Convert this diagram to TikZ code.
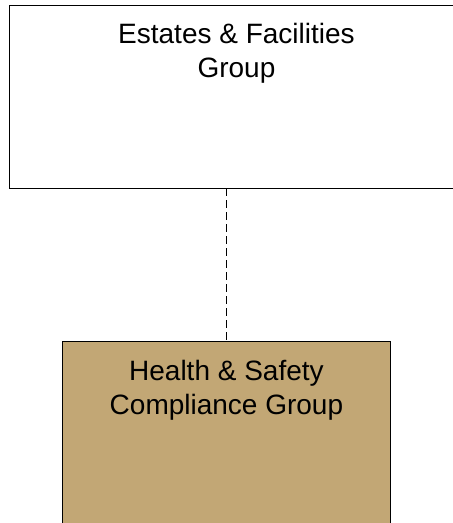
\documentclass[tikz,border=0pt]{standalone}
\usepackage{fontspec}
\setmainfont{Liberation Sans}
\definecolor{tan}{RGB}{194,167,117}
\begin{document}
\begin{tikzpicture}[x=1pt,y=-1pt,
  box/.style={draw=black,line width=0.9pt,rectangle,inner sep=0pt,anchor=north west},
  lbl/.style={anchor=north,align=center,inner sep=0pt,font=\fontsize{28}{34}\selectfont},
  link/.style={draw=black,line width=0.9pt,dash pattern=on 8pt off 4pt}]
\useasboundingbox (0,0) rectangle (453,523);
\clip (0,0) rectangle (453,523);
\node[box,minimum width=454pt,minimum height=183pt] (ef) at (9,4.5) {};
\node[box,fill=tan,minimum width=328pt,minimum height=200pt] (hs) at (62,341) {};
\node[lbl] (eft) at ([yshift=-18.5pt]ef.north) {Estates \& Facilities\\Group};
\node[lbl] (hst) at ([yshift=-19pt]hs.north) {Health \& Safety\\Compliance Group};
\draw[link] (hs.north |- ef.south) -- (hs.north);
\end{tikzpicture}
\end{document}
